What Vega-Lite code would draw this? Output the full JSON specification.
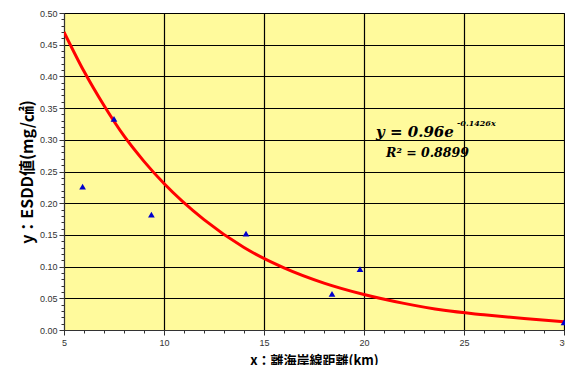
{
  "$schema": "https://vega.github.io/schema/vega-lite/v6.json",
  "width": 500,
  "height": 317,
  "autosize": {"type": "none"},
  "padding": {"left": 64, "top": 13, "right": 1, "bottom": 35},
  "background": "white",
  "title": {
    "text": "（離海岸線10km以内）",
    "font": "Noto Sans CJK JP",
    "fontSize": 24,
    "fontWeight": "bold",
    "color": "black",
    "anchor": "middle",
    "baseline": "bottom",
    "offset": 2
  },
  "config": {
    "view": {"fill": "#FFFA9C", "stroke": "#222"},
    "axis": {
      "labelFont": "Liberation Sans",
      "labelFontSize": 9,
      "labelColor": "#333",
      "labelOverlap": false,
      "labelBound": false,
      "domainColor": "#333",
      "tickColor": "#333",
      "gridColor": "#000",
      "gridWidth": 1.2,
      "titleColor": "black",
      "titleFont": "Noto Sans CJK JP",
      "titleFontWeight": "bold"
    }
  },
  "datasets": {
    "points": [
      {"x": 5.93, "y": 0.226},
      {"x": 7.5, "y": 0.333},
      {"x": 9.37, "y": 0.182},
      {"x": 14.1, "y": 0.152},
      {"x": 18.4, "y": 0.057},
      {"x": 19.8, "y": 0.096},
      {"x": 30.0, "y": 0.012}
    ],
    "curve": [
      {"x": 5, "y": 0.470},
      {"x": 6, "y": 0.408},
      {"x": 7, "y": 0.354},
      {"x": 8, "y": 0.306},
      {"x": 9, "y": 0.266},
      {"x": 10, "y": 0.231},
      {"x": 12, "y": 0.174},
      {"x": 14, "y": 0.130},
      {"x": 16, "y": 0.098},
      {"x": 18, "y": 0.074},
      {"x": 20, "y": 0.056},
      {"x": 22, "y": 0.042},
      {"x": 24, "y": 0.031},
      {"x": 26, "y": 0.024},
      {"x": 28, "y": 0.018},
      {"x": 30, "y": 0.013}
    ],
    "labels": [
      {"x": 20.6, "y": 0.305, "t": "y = 0.96e", "size": 15},
      {"x": 24.65, "y": 0.322, "t": "-0.1426x", "size": 8},
      {"x": 21.1, "y": 0.273, "t": "R² = 0.8899", "size": 12.5}
    ]
  },
  "layer": [
    {
      "data": {"name": "curve"},
      "mark": {"type": "line", "color": "#FF0000", "strokeWidth": 3, "interpolate": "monotone", "clip": true},
      "encoding": {
        "x": {
          "field": "x", "type": "quantitative",
          "scale": {"domain": [5, 30], "nice": false, "zero": false},
          "axis": {
            "values": [5,6,7,8,9,10,11,12,13,14,15,16,17,18,19,20,21,22,23,24,25,26,27,28,29,30],
            "tickCount": 100,
            "labelExpr": "datum.value % 5 === 0 ? datum.label : ''",
            "format": "d",
            "tickSize": {"condition": {"test": "datum.value % 5 === 0", "value": 5}, "value": 3},
            "gridOpacity": {"condition": {"test": "datum.value % 5 === 0", "value": 1}, "value": 0},
            "labelPadding": 3,
            "labelFlush": false,
            "title": "x：離海岸線距離(km)",
            "titleFontSize": 13,
            "titlePadding": 7
          }
        },
        "y": {
          "field": "y", "type": "quantitative",
          "scale": {"domain": [0, 0.5], "nice": false},
          "axis": {
            "values": [0,0.01,0.02,0.03,0.04,0.05,0.06,0.07,0.08,0.09,0.1,0.11,0.12,0.13,0.14,0.15,0.16,0.17,0.18,0.19,0.2,0.21,0.22,0.23,0.24,0.25,0.26,0.27,0.28,0.29,0.3,0.31,0.32,0.33,0.34,0.35,0.36,0.37,0.38,0.39,0.4,0.41,0.42,0.43,0.44,0.45,0.46,0.47,0.48,0.49,0.5],
            "tickCount": 100,
            "format": ".2f",
            "labelExpr": "round(datum.value*100) % 5 === 0 ? datum.label : ''",
            "tickSize": {"condition": {"test": "round(datum.value*100) % 5 === 0", "value": 5}, "value": 3},
            "gridOpacity": {"condition": {"test": "round(datum.value*100) % 5 === 0", "value": 1}, "value": 0},
            "labelPadding": 2,
            "title": "y：ESDD値(mg/㎠)",
            "titleFontSize": 16,
            "titlePadding": 4
          }
        }
      }
    },
    {
      "data": {"name": "points"},
      "mark": {"type": "point", "shape": "triangle-up", "filled": true, "color": "#0000CC", "size": 45, "opacity": 1},
      "encoding": {
        "x": {"field": "x", "type": "quantitative"},
        "y": {"field": "y", "type": "quantitative"}
      }
    },
    {
      "data": {"name": "labels"},
      "mark": {"type": "text", "align": "left", "baseline": "alphabetic", "font": "DejaVu Serif", "fontStyle": "italic", "fontWeight": "bold", "color": "black"},
      "encoding": {
        "x": {"field": "x", "type": "quantitative"},
        "y": {"field": "y", "type": "quantitative"},
        "text": {"field": "t"},
        "size": {"field": "size", "type": "quantitative", "scale": null}
      }
    }
  ]
}
